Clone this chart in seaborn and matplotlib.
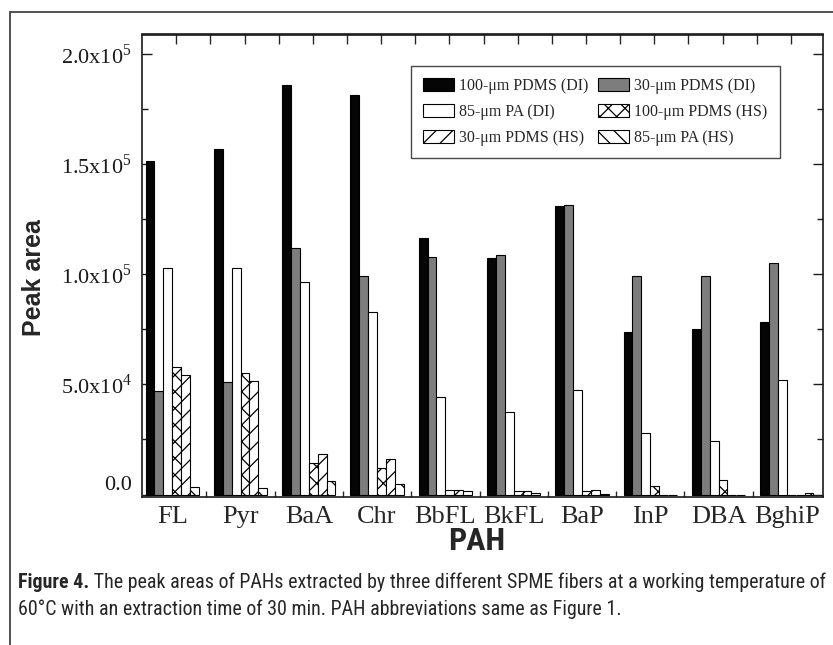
#!/usr/bin/env python

# peak areas of PAHs for six SPME fiber / mode combinations
#

import matplotlib.pyplot as plt
import matplotlib.font_manager as fm
import matplotlib.lines as mlines
import matplotlib.patches as mpatches
import matplotlib.transforms as mtransforms
import numpy as np
import pandas as pd
import seaborn as sns

pahs = ["FL", "Pyr", "BaA", "Chr", "BbFL", "BkFL", "BaP", "InP", "DBA", "BghiP"]
fibers = [
    "100-\u03bcm PDMS (DI)",
    "30-\u03bcm PDMS (DI)",
    "85-\u03bcm PA (DI)",
    "100-\u03bcm PDMS (HS)",
    "30-\u03bcm PDMS (HS)",
    "85-\u03bcm PA (HS)",
]

pdms100_di = [151500, 157000, 186000, 181500, 116500, 107500, 131000, 74000, 75000, 78500]
pdms30_di = [47000, 51000, 112000, 99500, 108000, 109000, 131500, 99500, 99500, 105000]
pa85_di = [103000, 103000, 96500, 83000, 44500, 37500, 47500, 28000, 24500, 52000]
pdms100_hs = [58000, 55000, 14500, 12000, 2000, 1800, 1800, 4000, 6500, 0]
pdms30_hs = [54500, 51500, 18500, 16000, 2200, 1800, 2000, 0, 0, 0]
pa85_hs = [3500, 3000, 6000, 5000, 1700, 500, 300, 0, 0, 500]

ytick_vals = [0, 50000, 100000, 150000, 200000]
ytick_labels = ["0.0", "5.0x10$^{4}$", "1.0x10$^{5}$", "1.5x10$^{5}$", "2.0x10$^{5}$"]
caption_bold = "Figure 4."
caption_l1 = " The peak areas of PAHs extracted by three different SPME fibers at a working temperature of"
caption_l2 = "60\u00b0C with an extraction time of 30 min. PAH abbreviations same as Figure 1."

colors = ["#050505", "#7d7d7d", "white", "white", "white", "white"]
hatches = ["", "", "", "xx", "//", "\\\\"]

series = [pdms100_di, pdms30_di, pa85_di, pdms100_hs, pdms30_hs, pa85_hs]
df = pd.DataFrame(
    [(p, f, v) for f, vals in zip(fibers, series) for p, v in zip(pahs, vals)],
    columns=["PAH", "fiber", "area"],
)


def narrow_font():
    # the caption uses a condensed sans; find one if the system has any
    ttf = fm.fontManager.ttflist
    names = {f.name for f in ttf}
    for n in ["Liberation Sans Narrow", "Roboto Condensed", "Open Sans Condensed",
              "Noto Sans Condensed", "DejaVu Sans Condensed"]:
        if n in names:
            return n, "normal"
    for fam in ["Noto Sans", "DejaVu Sans", "Open Sans", "Roboto", "Lato"]:
        for f in ttf:
            if f.name == fam and str(f.stretch) in ("condensed", "semi-condensed",
                                                     "extra-condensed"):
                return fam, f.stretch
    return "Liberation Sans", "normal"


sns.set_style("ticks")
cap_font, cap_stretch = narrow_font()
plt.rcParams["font.family"] = ["Liberation Serif", "DejaVu Serif"]
plt.rcParams["mathtext.fontset"] = "custom"
plt.rcParams["mathtext.rm"] = "Liberation Serif"
plt.rcParams["hatch.linewidth"] = 0.9
plt.rcParams["axes.edgecolor"] = "#1a1a1a"

fig = plt.figure(figsize=(8.33, 6.45), dpi=100)
ax = fig.add_axes([141.5 / 833, 1 - 496.5 / 645, 681.5 / 833, 462 / 645])

sns.barplot(
    data=df, x="PAH", y="area", hue="fiber", hue_order=fibers,
    palette=colors, saturation=1, width=0.78, edgecolor="black",
    linewidth=0.8, ax=ax, legend=False, errorbar=None,
)
for cont, h in zip(ax.containers, hatches):
    for bar in cont:
        bar.set_hatch(h)

ax.set_xlim(-0.45, 9.53)
ax.set_ylim(-900, 209000)

for s in ax.spines.values():
    s.set_linewidth(1.2)

ax.set_yticks(ytick_vals, ytick_labels)
ax.set_yticks([25000, 75000, 125000, 175000], minor=True)
ax.tick_params(axis="y", which="both", direction="in", right=True, width=1.0,
               labelsize=16, pad=7, colors="#1a1a1a")
ax.tick_params(axis="y", which="major", length=7)
ax.tick_params(axis="y", which="minor", length=4)

ax.set_xticks(range(len(pahs)), pahs)
ax.set_xticks(np.arange(0.5, 9, 1.0), minor=True)
ax.tick_params(axis="x", which="major", length=0, labelsize=19, pad=7, top=False)
ax.tick_params(axis="x", which="minor", length=4, width=1.0, direction="in", top=False)

top = ax.secondary_xaxis("top")
top.set_xticks(np.arange(0, 9.6, 0.5) + 0.06)
top.tick_params(direction="in", length=7, width=1.0, labeltop=False)
top.spines["top"].set_linewidth(1.2)

# "0.0" sits a little above its tick in the original
zero_lab = ax.yaxis.get_major_ticks()[0].label1
zero_lab.set_transform(zero_lab.get_transform()
                       + mtransforms.ScaledTranslation(0, 12 / 100, fig.dpi_scale_trans))

ax.set_ylabel("Peak area", family="Liberation Sans", fontweight="bold", fontsize=18)
ax.yaxis.label.set_va("center")
ax.yaxis.set_label_coords((34 - 141.5) / 681.5, (496.5 - 278) / 462)
pah_size = 21 if cap_stretch == "normal" and cap_font == "Liberation Sans" else 23
ax.set_xlabel("PAH", family=cap_font, fontstretch=cap_stretch, fontweight="bold",
              fontsize=pah_size)
ax.xaxis.label.set_va("center")
ax.xaxis.set_label_coords((477 - 141.5) / 681.5, (496.5 - 541) / 462)

# legend fills row by row in the original
order = [0, 2, 4, 1, 3, 5]
handles = [
    mpatches.Patch(facecolor=colors[i], edgecolor="black", hatch=hatches[i],
                   linewidth=0.8, label=fibers[i])
    for i in order
]
leg = ax.legend(
    handles=handles, ncol=2, loc="upper center",
    bbox_to_anchor=((595.5 - 141.5) / 681.5, (496.5 - 66) / 462),
    borderaxespad=0, fontsize=11.5, frameon=True, fancybox=False,
    edgecolor="#1a1a1a", handlelength=1.9, handleheight=0.9,
    handletextpad=0.35, columnspacing=0.6, labelspacing=0.62,
    borderpad=0.75,
)
leg.get_frame().set_linewidth(1.0)

# page frame lines
fig.add_artist(mlines.Line2D([10 / 833, 10 / 833], [0, 1 - 12 / 645],
                             transform=fig.transFigure, color="#444444", lw=1.3))
fig.add_artist(mlines.Line2D([10 / 833, 1], [1 - 12 / 645, 1 - 12 / 645],
                             transform=fig.transFigure, color="#444444", lw=1.3))

# caption, sized so the first line spans the width of the original
fs = 12
kw = dict(family=cap_font, fontstretch=cap_stretch, fontsize=fs, va="baseline", ha="left")
t1 = fig.text(18 / 833, 1 - 588 / 645, caption_bold, fontweight="bold", **kw)
t2 = fig.text(0, 1 - 588 / 645, caption_l1, **kw)
t3 = fig.text(18 / 833, 1 - 615 / 645, caption_l2, **kw)
renderer = fig.canvas.get_renderer()
for _ in range(2):
    w = t1.get_window_extent(renderer).width + t2.get_window_extent(renderer).width
    fs = fs * 804 / w
    for t in (t1, t2, t3):
        t.set_fontsize(fs)
t2.set_x(t1.get_window_extent(renderer).x1 / fig.bbox.width)

fig.savefig("out.png", dpi=100, facecolor="white")
